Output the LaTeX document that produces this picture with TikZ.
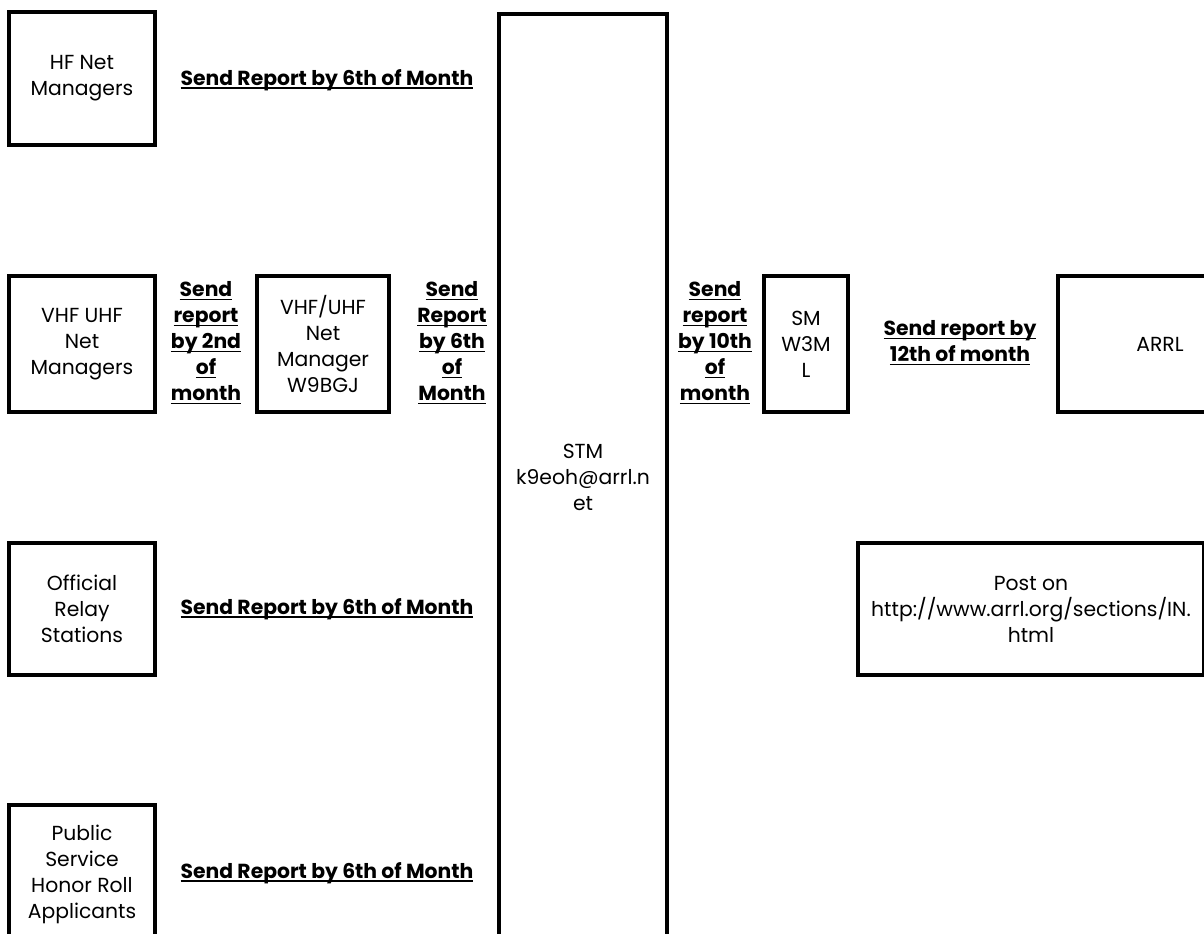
\documentclass[tikz,border=0pt]{standalone}
\usepackage{fontspec}
\setmainfont{Poppins}
\usetikzlibrary{positioning}

\newcommand{\dueline}[1]{\setbox0\hbox{#1}\rlap{\rule[-2.6pt]{\wd0}{1.2pt}}\box0}

\begin{document}
\begin{tikzpicture}[
        x=0.75pt, y=-0.75pt,
        every node/.style={
            font=\fontsize{15.25}{19.5}\selectfont,
        },
        report-box/.style={
            draw,
            line width=3pt,
            align=center,
            inner sep=0pt,
        },
        due-label/.style={
            align=center,
            inner sep=0pt,
            font=\fontsize{15.25}{19.5}\selectfont\bfseries,
        },
    ]
    \useasboundingbox (0, 0) rectangle (1204, 934);
    \clip (0, 0) rectangle (1204, 934);

    % stations on the left
    \node[report-box, minimum width=109.5pt, minimum height=99.75pt] (hf-nets) at (82, 78.5) {HF Net\\Managers};
    \node[report-box, minimum width=109.5pt, minimum height=102pt] (vhf-nets) at (82, 344) {VHF UHF\\Net\\Managers};
    \node[report-box, minimum width=99pt, minimum height=102pt] (vhf-manager) at (323, 344) {VHF/UHF\\Net\\Manager\\W9BGJ};
    \node[report-box, minimum width=109.5pt, minimum height=99pt] (relay) at (82, 609) {Official\\Relay\\Stations};
    \node[report-box, minimum width=109.5pt, minimum height=103.5pt] (honor-roll) at (82, 874) {Public\\Service\\Honor Roll\\Applicants};

    % section traffic manager
    \node[report-box, minimum width=126pt, minimum height=694.5pt] (stm) at (583, 477) {STM\\k9eoh@arrl.n\\et};

    % stations on the right
    \node[report-box, minimum width=63pt, minimum height=102pt] (sm) at (806, 344) {SM\\W3M\\L};
    \node[report-box, minimum width=153pt, minimum height=102pt] (arrl) at (1160, 344) {ARRL};
    \node[report-box, minimum width=259.5pt, minimum height=99pt] (web) at (1031, 609) {Post on\\http://www.arrl.org/sections/IN.\\html};

    % deadlines
    \node[due-label] (hf-due) at (327, 80) {\dueline{Send Report by 6th of Month}};
    \node[due-label] (vhf-due) at (206, 343) {\dueline{Send}\\\dueline{report}\\\dueline{by 2nd}\\\dueline{of}\\\dueline{month}};
    \node[due-label] (manager-due) at (452, 343) {\dueline{Send}\\\dueline{Report}\\\dueline{by 6th}\\\dueline{of}\\\dueline{Month}};
    \node[due-label] (relay-due) at (327, 609) {\dueline{Send Report by 6th of Month}};
    \node[due-label] (honor-due) at (327, 873) {\dueline{Send Report by 6th of Month}};
    \node[due-label] (sm-due) at (715, 343) {\dueline{Send}\\\dueline{report}\\\dueline{by 10th}\\\dueline{of}\\\dueline{month}};
    \node[due-label] (arrl-due) at (960, 343) {\dueline{Send report by}\\\dueline{12th of month}};
\end{tikzpicture}
\end{document}
